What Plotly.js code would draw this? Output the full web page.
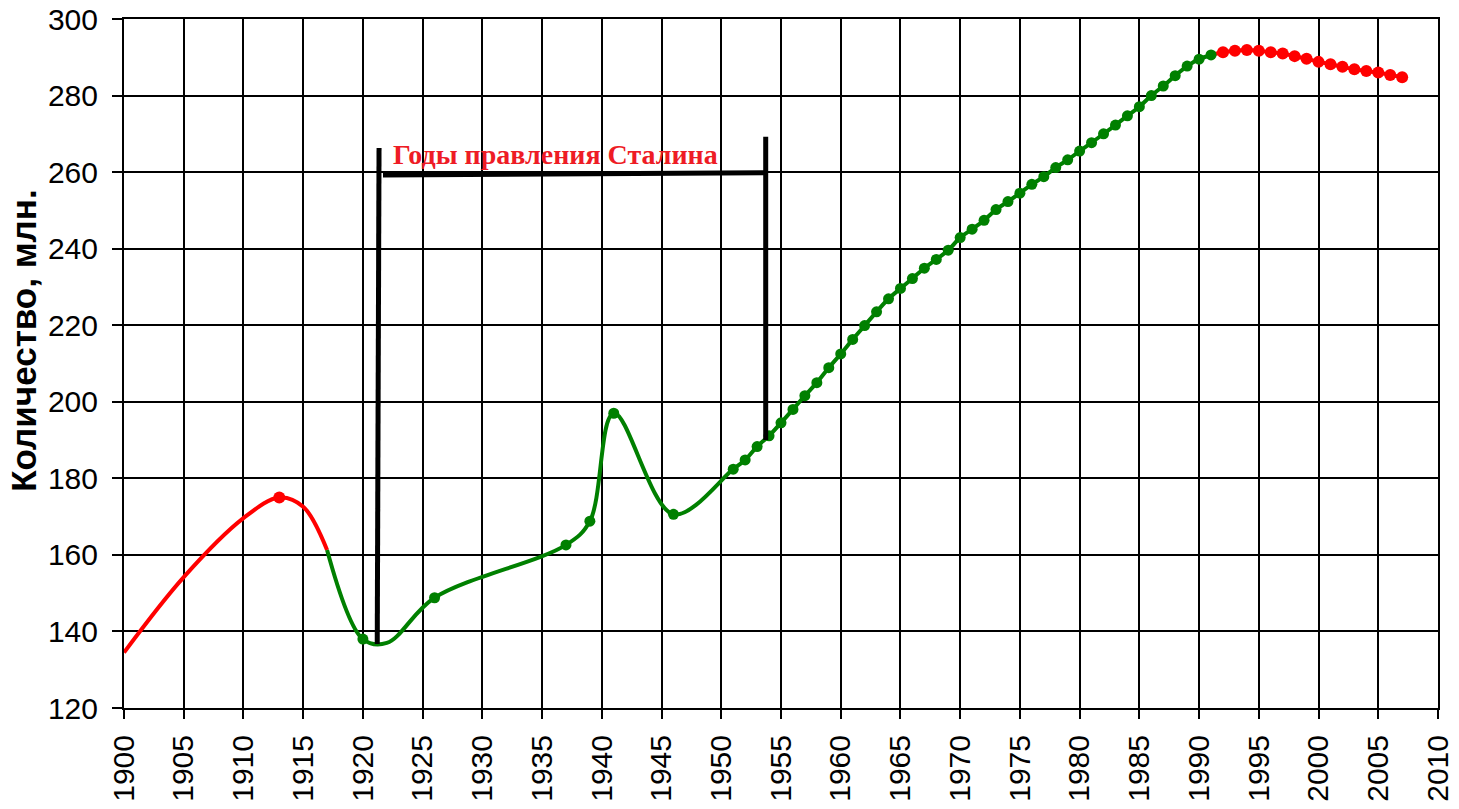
<!DOCTYPE html>
<html>
<head>
<meta charset="utf-8">
<script src="https://cdn.plot.ly/plotly-3.0.1.min.js"></script>
<style>
  html, body { margin: 0; padding: 0; background: #fff; }
  #chart { width: 1459px; height: 809px; }
</style>
</head>
<body>
<div id="chart"></div>
<script>
// Population, millions
const earlyYears = [1900, 1905, 1910, 1913, 1915, 1917];
const earlyPop = [134.5, 154.2, 169.6, 175.0, 172.6, 161.3];

const sovietYears = [1917, 1920, 1922, 1926, 1937, 1939, 1941, 1946,
  1951, 1952, 1953, 1954, 1955, 1956, 1957, 1958, 1959, 1960,
  1961, 1962, 1963, 1964, 1965, 1966, 1967, 1968, 1969, 1970,
  1971, 1972, 1973, 1974, 1975, 1976, 1977, 1978, 1979, 1980,
  1981, 1982, 1983, 1984, 1985, 1986, 1987, 1988, 1989, 1990, 1991];
const sovietPop = [161.3, 138.0, 137.0, 148.8, 162.6, 168.8, 197.0, 170.6,
  182.4, 184.8, 188.3, 191.1, 194.5, 198.0, 201.6, 205.0, 208.9, 212.5,
  216.3, 219.9, 223.5, 226.9, 229.6, 232.2, 234.9, 237.2, 239.6, 242.9,
  245.1, 247.4, 250.2, 252.3, 254.5, 256.8, 258.8, 261.2, 263.2, 265.5,
  267.7, 270.0, 272.3, 274.7, 277.1, 280.0, 282.5, 285.2, 287.7, 289.5, 290.6];

const lateYears = [1991, 1992, 1993, 1994, 1995, 1996, 1997, 1998, 1999,
  2000, 2001, 2002, 2003, 2004, 2005, 2006, 2007];
const latePop = [290.6, 291.3, 291.7, 291.9, 291.7, 291.3, 291.0, 290.3, 289.6,
  288.8, 288.2, 287.5, 286.9, 286.4, 286.0, 285.4, 284.8];

// years that carry a dot on the curve
const markedEarly = [1913];
const markedSoviet = [1920, 1926, 1937, 1939, 1941, 1946].concat(sovietYears.filter(y => y >= 1951));
const markedLate = lateYears.filter(y => y >= 1992);

// Stalin bracket, drawn by hand on the original
const stalinLabel = 'Годы правления Сталина';
const stalinLabelPos = [1936.1, 264.6];
const bracketLeftX = [1921.35, 1921.2];
const bracketLeftY = [266.3, 136.7];
const bracketTopX = [1921.68, 1953.75];
const bracketTopY = [259.25, 259.85];
const bracketRightX = [1953.72, 1953.72];
const bracketRightY = [269.25, 190.0];

const yTitle = 'Количество, млн.';
const yTicks = [120, 140, 160, 180, 200, 220, 240, 260, 280, 300];
const xTicks = [];
for (let y = 1900; y <= 2010; y += 5) xTicks.push(y);

const RED = '#ff0000';
const GREEN = '#008000';

function sizes(years, marked, size) {
  return years.map(y => marked.includes(y) ? size : 0);
}

function curve(x, y, color, marked, size) {
  return {
    x: x,
    y: y,
    type: 'scatter',
    mode: 'lines+markers',
    line: {color: color, width: 4, shape: 'spline', smoothing: 1},
    marker: {color: color, opacity: 1, size: sizes(x, marked, size), line: {width: 0}},
    hoverinfo: 'skip'
  };
}

const traces = [
  curve(lateYears, latePop, RED, markedLate, 12),
  curve(earlyYears, earlyPop, RED, markedEarly, 12),
  curve(sovietYears, sovietPop, GREEN, markedSoviet, 11)
];

function bracketLine(xs, ys) {
  return {
    type: 'line', xref: 'x', yref: 'y',
    x0: xs[0], x1: xs[1], y0: ys[0], y1: ys[1],
    line: {color: '#000', width: 5}
  };
}

const tickFont = {family: 'Liberation Sans, Arial, sans-serif', size: 30, color: '#000'};

const layout = {
  width: 1459,
  height: 809,
  margin: {l: 124, r: 21, t: 19, b: 101},
  paper_bgcolor: '#fff',
  plot_bgcolor: '#fff',
  showlegend: false,
  xaxis: {
    range: [1900, 2010],
    tickvals: xTicks,
    ticktext: xTicks.map(String),
    tickangle: -90,
    tickfont: tickFont,
    ticks: 'outside',
    ticklen: 9,
    tickwidth: 2,
    tickcolor: '#000',
    ticklabelstandoff: 4,
    showgrid: true,
    gridcolor: '#000',
    gridwidth: 2,
    showline: true,
    linecolor: '#000',
    linewidth: 2,
    mirror: true,
    zeroline: false,
    fixedrange: true
  },
  yaxis: {
    range: [120, 300],
    tickvals: yTicks,
    tickfont: tickFont,
    ticks: 'outside',
    ticklen: 10,
    tickwidth: 2,
    tickcolor: '#000',
    ticklabelstandoff: 8,
    showgrid: true,
    gridcolor: '#000',
    gridwidth: 2,
    showline: true,
    linecolor: '#000',
    linewidth: 2,
    mirror: true,
    zeroline: false,
    fixedrange: true
  },
  shapes: [
    bracketLine(bracketLeftX, bracketLeftY),
    bracketLine(bracketTopX, bracketTopY),
    bracketLine(bracketRightX, bracketRightY)
  ],
  annotations: [{
    x: stalinLabelPos[0],
    y: stalinLabelPos[1],
    xref: 'x',
    yref: 'y',
    text: '<b>' + stalinLabel + '</b>',
    showarrow: false,
    font: {family: 'Liberation Serif, Times New Roman, serif', size: 28, color: '#ee1c25'}
  }, {
    // axis title sits a little above the plot centre in the original
    x: -0.0761,
    y: 0.533,
    xref: 'paper',
    yref: 'paper',
    xanchor: 'center',
    yanchor: 'middle',
    text: '<b>' + yTitle + '</b>',
    textangle: -90,
    showarrow: false,
    font: {family: 'Liberation Sans, Arial, sans-serif', size: 35, color: '#000'}
  }]
};

Plotly.newPlot('chart', traces, layout, {staticPlot: true, displayModeBar: false});
</script>
</body>
</html>
